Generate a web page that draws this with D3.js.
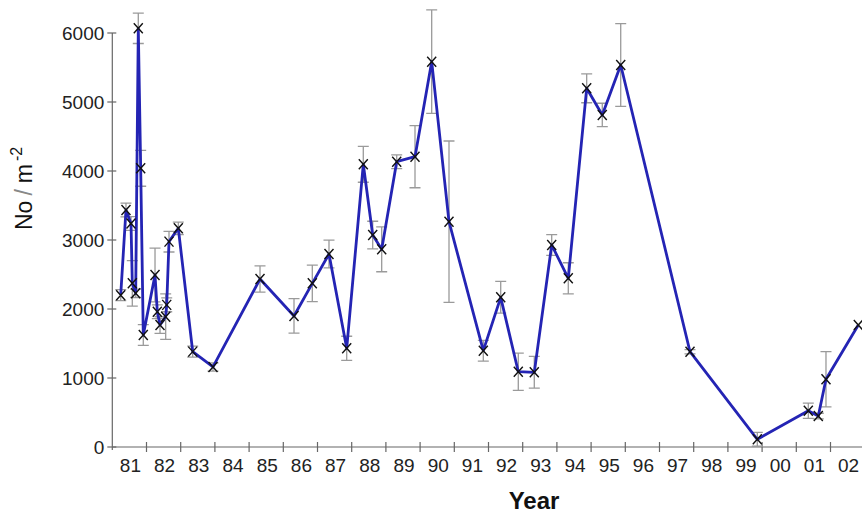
<!DOCTYPE html>
<html>
<head>
<meta charset="utf-8">
<script src="https://cdn.jsdelivr.net/npm/d3@7/dist/d3.min.js"></script>
<style>
  html, body { margin: 0; padding: 0; background: #fff; }
  svg { display: block; font-family: "Liberation Sans", Arial, sans-serif; }
</style>
</head>
<body>
<svg id="chart" width="862" height="513"></svg>
<script>
// Sampling dates (decimal years) and densities (No/m^2) with standard errors
const sampleDates = [
  1981.246, 1981.400, 1981.547, 1981.585, 1981.684, 1981.760, 1981.830, 1981.906,
  1982.249, 1982.316, 1982.395, 1982.561, 1982.591, 1982.658, 1982.930,
  1983.351, 1983.944, 1985.319, 1986.313, 1986.848, 1987.336, 1987.854,
  1988.339, 1988.614, 1988.877, 1989.316, 1989.851, 1990.339, 1990.845,
  1991.848, 1992.357, 1992.871, 1993.339, 1993.848, 1994.333, 1994.871,
  1995.327, 1995.866, 1997.892, 1999.860, 2001.351, 2001.643, 2001.868, 2002.813
];
const density = [
  2200, 3435, 3240, 2372, 2227, 6068, 4039, 1623,
  2493, 1961, 1768, 1889, 2060, 2976, 3170,
  1382, 1160, 2435, 1899, 2372, 2797, 1430,
  4097, 3072, 2865, 4135, 4207, 5584, 3265,
  1396, 2169, 1091, 1082, 2928, 2445, 5199,
  4812, 5536, 1381, 111, 526, 449, 981, 1768
];
const stdError = [
  80, 100, 100, 330, 60, 220, 260, 150,
  390, 100, 120, 330, 100, 150, 90,
  80, 60, 190, 250, 265, 200, 175,
  260, 200, 325, 100, 450, 750, 1170,
  150, 230, 270, 230, 150, 225, 210,
  170, 600, 30, 100, 110, 40, 400, 0
];
const yTickValues = [0, 1000, 2000, 3000, 4000, 5000, 6000];
const yearLabels = ["81","82","83","84","85","86","87","88","89","90","91",
                    "92","93","94","95","96","97","98","99","00","01","02"];

const svg = d3.select("#chart");
const W = 862;

const x = d3.scaleLinear().domain([1981, 2003]).range([112.3, 112.3 + 22 * 34.2]);
const y = d3.scaleLinear().domain([0, 6000]).range([447, 33]);

const axisColor = "#666";
const textColor = "#222";

// X axis: year-boundary ticks crossing the axis line
const xAxisG = svg.append("g").attr("transform", `translate(0,${y(0)})`);
xAxisG.append("line")
  .attr("x1", x(1981)).attr("x2", W)
  .attr("stroke", axisColor).attr("stroke-width", 1.2);
const boundaryYears = d3.range(1982, 2003);
xAxisG.selectAll("line.tick").data(boundaryYears).join("line")
  .attr("class", "tick")
  .attr("x1", d => x(d)).attr("x2", d => x(d))
  .attr("y1", -5).attr("y2", 5)
  .attr("stroke", axisColor).attr("stroke-width", 1.2);
// Year labels centred in each year span
xAxisG.selectAll("text").data(yearLabels).join("text")
  .attr("x", (d, i) => x(1981 + i + 0.5) + 1)
  .attr("y", 25)
  .attr("text-anchor", "middle")
  .attr("font-size", 19)
  .attr("fill", textColor)
  .text(d => d);

// Y axis
const yAxisG = svg.append("g").attr("transform", `translate(${x(1981)},0)`);
yAxisG.append("line")
  .attr("y1", y(0) + 3).attr("y2", y(6000))
  .attr("stroke", axisColor).attr("stroke-width", 1.2);
yAxisG.selectAll("line.tick").data(yTickValues).join("line")
  .attr("class", "tick")
  .attr("x1", -5).attr("x2", 4)
  .attr("y1", d => y(d)).attr("y2", d => y(d))
  .attr("stroke", axisColor).attr("stroke-width", 1.2);
yAxisG.selectAll("text").data(yTickValues).join("text")
  .attr("x", -8)
  .attr("y", d => y(d))
  .attr("dy", "0.36em")
  .attr("text-anchor", "end")
  .attr("font-size", 19)
  .attr("fill", textColor)
  .text(d => d);

// Axis titles
svg.append("text")
  .attr("x", 534).attr("y", 509)
  .attr("text-anchor", "middle")
  .attr("font-size", 24)
  .attr("font-weight", "bold")
  .attr("fill", "#111")
  .text("Year");

const yTitle = svg.append("text")
  .attr("transform", "translate(32,230) rotate(-90)")
  .attr("font-size", 23)
  .attr("fill", "#111");
yTitle.append("tspan").text("No");
yTitle.append("tspan").attr("dx", 5).attr("fill", "#888").attr("font-weight", 300).text("/");
yTitle.append("tspan").attr("dx", 6).text("m");
yTitle.append("tspan").attr("dx", 3).attr("dy", -10).attr("font-size", 16).text("-2");

// Data
const points = sampleDates.map((t, i) => ({ t, v: density[i], e: stdError[i] }));

// Error bars
const eb = svg.append("g").attr("stroke", "#9a9a9a").attr("stroke-width", 1.3).attr("fill", "none");
points.filter(p => p.e > 0).forEach(p => {
  const cx = x(p.t), y1 = y(p.v + p.e), y2 = y(p.v - p.e);
  eb.append("path")
    .attr("d", `M${cx},${y1}V${y2}M${cx - 5.5},${y1}H${cx + 5.5}M${cx - 5.5},${y2}H${cx + 5.5}`);
});

// Density line
svg.append("path")
  .datum(points)
  .attr("fill", "none")
  .attr("stroke", "#2424b4")
  .attr("stroke-width", 2.8)
  .attr("stroke-linejoin", "round")
  .attr("d", d3.line().x(d => x(d.t)).y(d => y(d.v)));

// Cross markers
svg.append("g").selectAll("path").data(points).join("path")
  .attr("transform", d => `translate(${x(d.t)},${y(d.v)})`)
  .attr("d", "M-4.5,-5L4.5,5M-4.5,5L4.5,-5")
  .attr("stroke", "#111")
  .attr("stroke-width", 1.4)
  .attr("fill", "none");
</script>
</body>
</html>
